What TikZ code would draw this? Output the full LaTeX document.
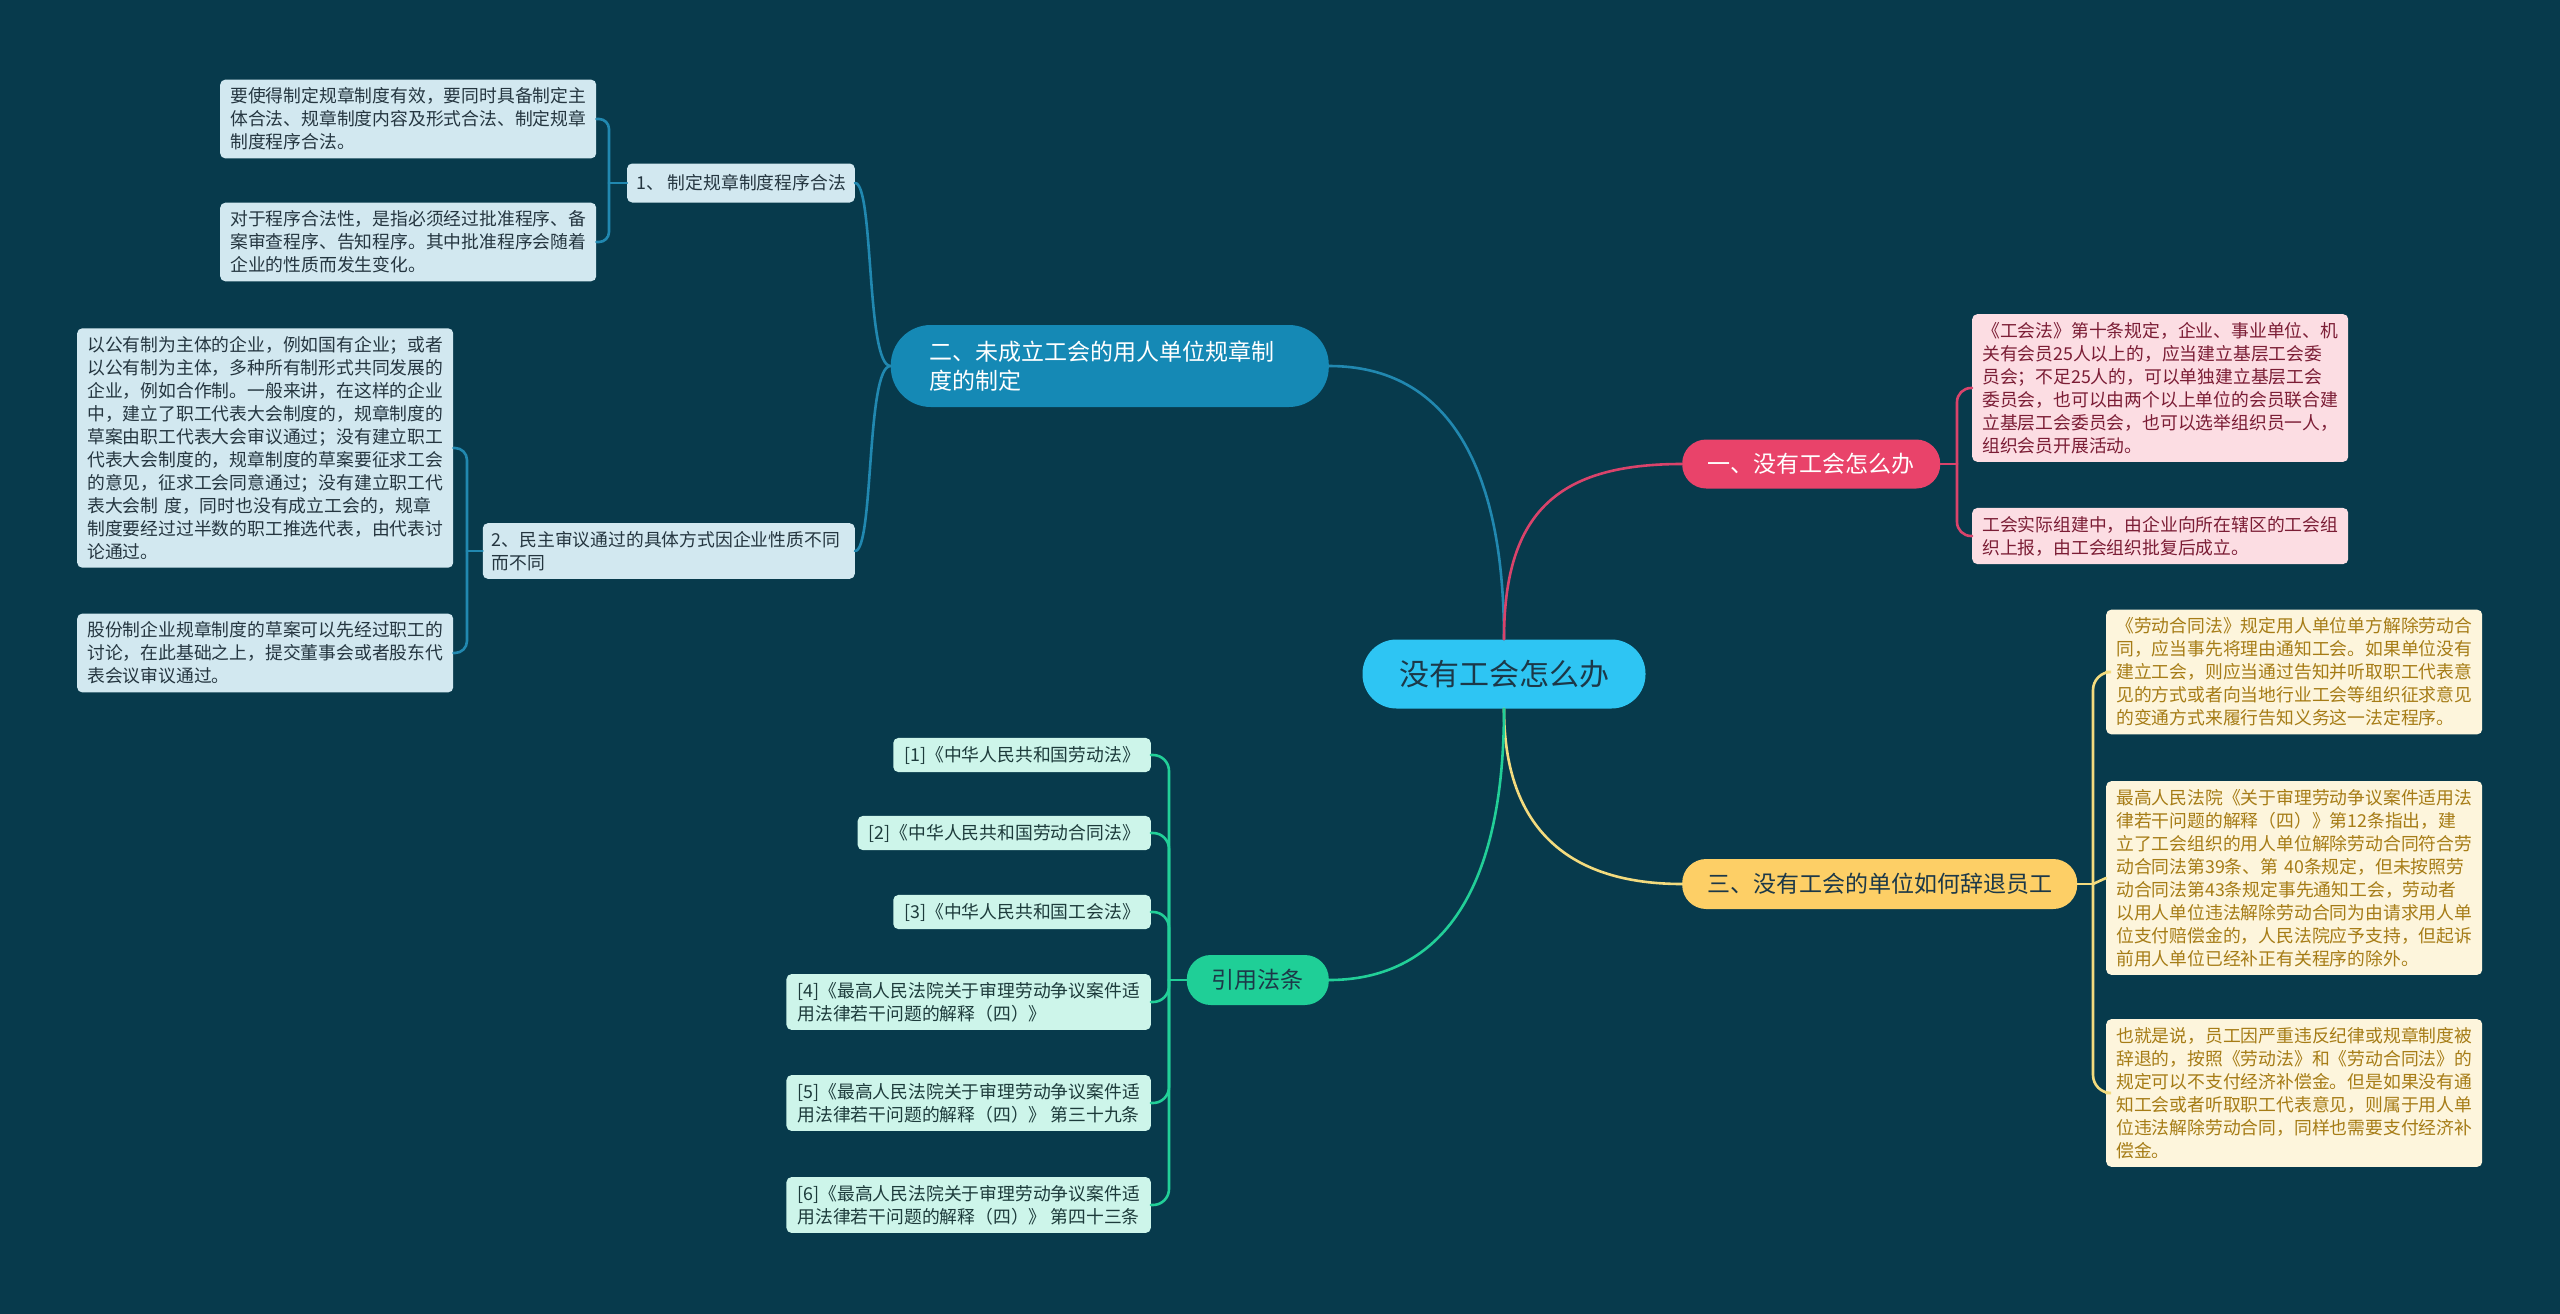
\documentclass[tikz,border=0pt]{standalone}
\usepackage{fontspec}
\setmainfont{Noto Sans CJK SC}
\definecolor{bg}{HTML}{073A4C}
\definecolor{cBlue}{HTML}{2188B0}
\definecolor{cPink}{HTML}{D9436B}
\definecolor{cYel}{HTML}{F3DB7E}
\definecolor{cGreen}{HTML}{22CF98}
\definecolor{fCenter}{HTML}{2EC5F3}
\definecolor{fBlue}{HTML}{1589B5}
\definecolor{fPink}{HTML}{E9436A}
\definecolor{fYel}{HTML}{FDCF66}
\definecolor{fGreen}{HTML}{1FCF97}
\definecolor{lBlue}{HTML}{D2E8F0}
\definecolor{lPink}{HTML}{FCDDE3}
\definecolor{lYel}{HTML}{FDF5DC}
\definecolor{lGreen}{HTML}{CDF5EA}
\definecolor{tBlue}{HTML}{253640}
\definecolor{tPink}{HTML}{7B1D35}
\definecolor{tYel}{HTML}{A67C16}
\definecolor{tGreen}{HTML}{1D3B3B}
\definecolor{tDark}{HTML}{1C3848}
\begin{document}
\begin{tikzpicture}[x=1pt,y=-1pt,
  leafbase/.style={rounded corners=5pt, inner xsep=10pt, inner ysep=8pt, align=left,
     font=\fontsize{17.8}{23}\selectfont},
  leafbox/.style={leafbase, text width=356pt},
  leafblue/.style={leafbox, fill=lBlue, text=tBlue},
  leafpink/.style={leafbox, fill=lPink, text=tPink},
  leafyel/.style={leafbox, fill=lYel, text=tYel},
  refbox/.style={leafbase, inner xsep=11pt, inner ysep=8pt, fill=lGreen, text=tGreen},
  subblue/.style={leafbase, fill=lBlue, text=tBlue, inner xsep=9pt},
  pill/.style={rounded corners=24pt, font=\fontsize{23}{29}\selectfont, inner ysep=0pt},
  con/.style={line width=2.6pt, line cap=round},
]
\useasboundingbox (0,0) rectangle (2560,1314);
\fill[bg] (0,0) rectangle (2560,1314);

% center
\node[rounded corners=34pt, fill=fCenter, text=tDark, font=\fontsize{30}{36}\selectfont,
      minimum width=283pt, minimum height=69pt] (c) at (1504,674) {没有工会怎么办};

% main branches
\node[pill, fill=fBlue, text=white, align=left, text width=360pt, inner xsep=39pt,
      minimum height=82pt, rounded corners=40pt, anchor=east] (b2) at (1329,366)
      {二、未成立工会的用人单位规章制\\度的制定};
\node[pill, fill=fPink, text=white, minimum width=258pt, minimum height=49pt, anchor=west]
      (b1) at (1682,464) {一、没有工会怎么办};
\node[pill, fill=fYel, text=tDark, minimum width=395pt, minimum height=50pt, anchor=west]
      (b3) at (1682,884) {三、没有工会的单位如何辞退员工};
\node[pill, fill=fGreen, text=tDark, minimum width=142pt, minimum height=50pt, anchor=east]
      (rf) at (1329,980) {引用法条};

% branch 2 sub nodes
\node[subblue, anchor=east, minimum height=39pt] (n1) at (855,183) {1、 制定规章制度程序合法};
\node[subblue, anchor=east, text width=354pt] (n2) at (855,551)
      {2、民主审议通过的具体方式因企业性质不同\\而不同};

\node[leafblue, anchor=west] (la) at (220,119)
 {要使得制定规章制度有效，要同时具备制定主\\体合法、规章制度内容及形式合法、制定规章\\制度程序合法。};
\node[leafblue, anchor=west] (lb) at (220,242)
 {对于程序合法性，是指必须经过批准程序、备\\案审查程序、告知程序。其中批准程序会随着\\企业的性质而发生变化。};
\node[leafblue, anchor=west] (lc) at (77,448)
 {以公有制为主体的企业，例如国有企业；或者\\以公有制为主体，多种所有制形式共同发展的\\企业，例如合作制。一般来讲，在这样的企业\\中，建立了职工代表大会制度的，规章制度的\\草案由职工代表大会审议通过；没有建立职工\\代表大会制度的，规章制度的草案要征求工会\\的意见，征求工会同意通过；没有建立职工代\\表大会制 度，同时也没有成立工会的，规章\\制度要经过过半数的职工推选代表，由代表讨\\论通过。};
\node[leafblue, anchor=west] (ld) at (77,653)
 {股份制企业规章制度的草案可以先经过职工的\\讨论，在此基础之上，提交董事会或者股东代\\表会议审议通过。};

% branch 1 leaves
\node[leafpink, anchor=west] (le) at (1972,388)
 {《工会法》第十条规定，企业、事业单位、机\\关有会员25人以上的，应当建立基层工会委\\员会；不足25人的，可以单独建立基层工会\\委员会，也可以由两个以上单位的会员联合建\\立基层工会委员会，也可以选举组织员一人，\\组织会员开展活动。};
\node[leafpink, anchor=west] (lf) at (1972,536)
 {工会实际组建中，由企业向所在辖区的工会组\\织上报，由工会组织批复后成立。};

% branch 3 leaves
\node[leafyel, anchor=west] (lg) at (2106,672)
 {《劳动合同法》规定用人单位单方解除劳动合\\同，应当事先将理由通知工会。如果单位没有\\建立工会，则应当通过告知并听取职工代表意\\见的方式或者向当地行业工会等组织征求意见\\的变通方式来履行告知义务这一法定程序。};
\node[leafyel, anchor=west] (lh) at (2106,878)
 {最高人民法院《关于审理劳动争议案件适用法\\律若干问题的解释（四）》第12条指出，建\\立了工会组织的用人单位解除劳动合同符合劳\\动合同法第39条、第 40条规定，但未按照劳\\动合同法第43条规定事先通知工会，劳动者\\以用人单位违法解除劳动合同为由请求用人单\\位支付赔偿金的，人民法院应予支持，但起诉\\前用人单位已经补正有关程序的除外。};
\node[leafyel, anchor=west] (li) at (2106,1093)
 {也就是说，员工因严重违反纪律或规章制度被\\辞退的，按照《劳动法》和《劳动合同法》的\\规定可以不支付经济补偿金。但是如果没有通\\知工会或者听取职工代表意见，则属于用人单\\位违法解除劳动合同，同样也需要支付经济补\\偿金。};

% references
\node[refbox, anchor=east] (r1) at (1151,755) {[1]《中华人民共和国劳动法》};
\node[refbox, anchor=east] (r2) at (1151,833) {[2]《中华人民共和国劳动合同法》};
\node[refbox, anchor=east] (r3) at (1151,912) {[3]《中华人民共和国工会法》};
\node[refbox, anchor=east] (r4) at (1151,1002) {[4]《最高人民法院关于审理劳动争议案件适\\用法律若干问题的解释（四）》};
\node[refbox, anchor=east] (r5) at (1151,1103) {[5]《最高人民法院关于审理劳动争议案件适\\用法律若干问题的解释（四）》 第三十九条};
\node[refbox, anchor=east] (r6) at (1151,1205) {[6]《最高人民法院关于审理劳动争议案件适\\用法律若干问题的解释（四）》 第四十三条};

% main connectors
\draw[con, cBlue] (c.north) .. controls (1504,470) and (1450,366) .. (b2.east);
\draw[con, cPink] (c.north) .. controls (1504,510) and (1560,464) .. (b1.west);
\draw[con, cYel] (c.south) .. controls (1504,830) and (1570,884) .. (b3.west);
\draw[con, cGreen] (c.south) .. controls (1504,920) and (1420,980) .. (rf.east);

% branch 2 connectors
\draw[con, cBlue] (b2.west) .. controls (866,366) and (874,183) .. (n1.east);
\draw[con, cBlue] (b2.west) .. controls (866,366) and (874,551) .. (n2.east);
\coordinate (j1) at (609,183);
\draw[con, cBlue] (n1.west) -- (j1);
\draw[con, cBlue, rounded corners=10pt] (j1) |- (la.east);
\draw[con, cBlue, rounded corners=10pt] (j1) |- (lb.east);
\coordinate (j2) at (467,551);
\draw[con, cBlue] (n2.west) -- (j2);
\draw[con, cBlue, rounded corners=12pt] (j2) |- (lc.east);
\draw[con, cBlue, rounded corners=12pt] (j2) |- (ld.east);

% branch 1 connectors
\coordinate (j3) at (1957,464);
\draw[con, cPink] (b1.east) -- (j3);
\draw[con, cPink, rounded corners=14pt] (j3) |- (le.west);
\draw[con, cPink, rounded corners=14pt] (j3) |- (lf.west);

% branch 3 connectors
\coordinate (j4) at (2093,884);
\draw[con, cYel] (b3.east) -- (j4);
\draw[con, cYel, rounded corners=18pt] (j4) |- (lg.west);
\draw[con, cYel] (j4) -- (lh.west);
\draw[con, cYel, rounded corners=18pt] (j4) |- (li.west);

% reference connectors
\coordinate (j5) at (1169,980);
\draw[con, cGreen] (rf.west) -- (j5);
\foreach \r in {r1,r2,r3,r4,r5,r6}{
  \draw[con, cGreen, rounded corners=16pt] (j5) |- (\r.east);
}
\end{tikzpicture}
\end{document}
